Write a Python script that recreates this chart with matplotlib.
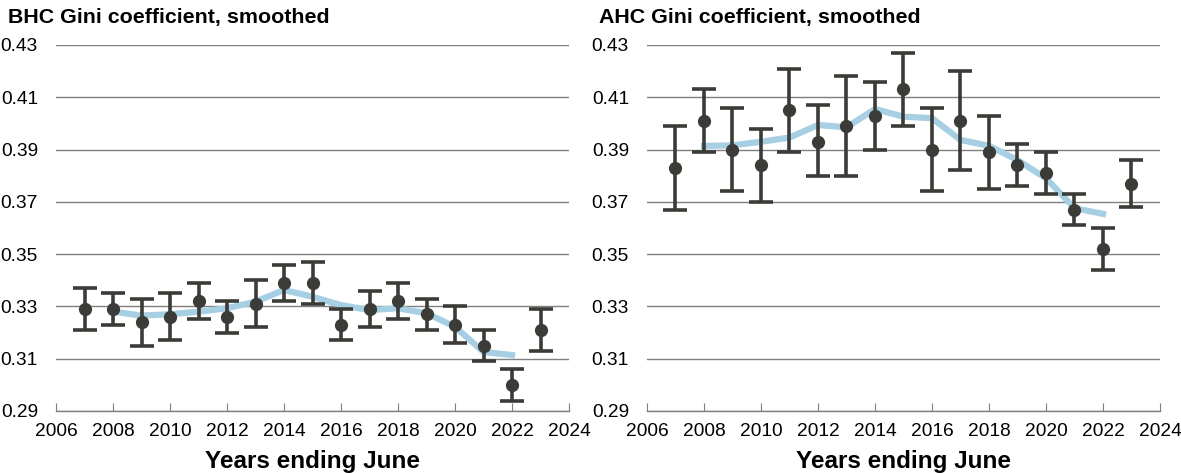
import matplotlib
matplotlib.use("Agg")
import matplotlib.pyplot as plt
import numpy as np

plt.rcParams["font.family"] = ["Liberation Sans", "DejaVu Sans"]

# ── Data ──────────────────────────────────────────────────────────────────────
years = [2007, 2008, 2009, 2010, 2011, 2012, 2013, 2014, 2015,
         2016, 2017, 2018, 2019, 2020, 2021, 2022, 2023]

bhc_val = [0.329, 0.329, 0.324, 0.326, 0.332, 0.326, 0.331, 0.339, 0.339,
           0.323, 0.329, 0.332, 0.327, 0.323, 0.315, 0.300, 0.321]
bhc_hi = [0.337, 0.335, 0.333, 0.335, 0.339, 0.332, 0.340, 0.346, 0.347,
          0.329, 0.336, 0.339, 0.333, 0.330, 0.321, 0.306, 0.329]
bhc_lo = [0.321, 0.323, 0.315, 0.317, 0.325, 0.320, 0.322, 0.332, 0.331,
          0.317, 0.322, 0.325, 0.321, 0.316, 0.309, 0.294, 0.313]

ahc_val = [0.383, 0.401, 0.390, 0.384, 0.405, 0.393, 0.399, 0.403, 0.413,
           0.390, 0.401, 0.389, 0.384, 0.381, 0.367, 0.352, 0.377]
ahc_hi = [0.399, 0.413, 0.406, 0.398, 0.421, 0.407, 0.418, 0.416, 0.427,
          0.406, 0.420, 0.403, 0.392, 0.389, 0.373, 0.360, 0.386]
ahc_lo = [0.367, 0.389, 0.374, 0.370, 0.389, 0.380, 0.380, 0.390, 0.399,
          0.374, 0.382, 0.375, 0.376, 0.373, 0.361, 0.344, 0.368]

smooth_years = [2008, 2009, 2010, 2011, 2012, 2013, 2014, 2015,
                2016, 2017, 2018, 2019, 2020, 2021, 2022]
bhc_smooth = [0.328, 0.3265, 0.327, 0.328, 0.3293, 0.3318, 0.3363, 0.3337,
              0.3305, 0.3286, 0.3293, 0.3274, 0.3222, 0.3126, 0.3114]
ahc_smooth = [0.3914, 0.3916, 0.393, 0.3946, 0.3994, 0.3985, 0.4055, 0.4026,
              0.402, 0.3937, 0.3914, 0.386, 0.379, 0.3676, 0.3654]

titles = ["BHC Gini coefficient, smoothed", "AHC Gini coefficient, smoothed"]
yticks = [0.29, 0.31, 0.33, 0.35, 0.37, 0.39, 0.41, 0.43]
xticks = list(range(2006, 2025, 2))

DARK = "#3b3b37"
BLUE = "#a6cfe4"
GRID = "#7f7f7f"

# ── Plot ──────────────────────────────────────────────────────────────────────
W, H = 1181, 473
fig = plt.figure(figsize=(W / 100, H / 100), dpi=100, facecolor="white")

panels = [
    (56, bhc_val, bhc_lo, bhc_hi, bhc_smooth),
    (647, ahc_val, ahc_lo, ahc_hi, ahc_smooth),
]

for (left_px, val, lo, hi, smooth), title in zip(panels, titles):
    ax = fig.add_axes([left_px / W, 1 - 411 / H, 513 / W, 366 / H])
    val = np.array(val)
    err = [val - np.array(lo), np.array(hi) - val]

    ax.plot(smooth_years, smooth, color=BLUE, linewidth=4.5,
            solid_joinstyle="round", zorder=2)
    ax.errorbar(years, val, yerr=err, fmt="o", color=DARK, ecolor=DARK,
                markersize=8.5, elinewidth=2.6, capsize=8.7, capthick=2.6,
                zorder=3)

    ax.set_xlim(2006, 2024)
    ax.set_ylim(0.29, 0.43)
    ax.set_xticks(xticks)
    ax.set_yticks(yticks)
    ax.set_yticklabels([f"{t:.2f}" for t in yticks])
    ax.grid(axis="y", color=GRID, linewidth=1)
    ax.set_axisbelow(True)
    for s in ["left", "right", "top"]:
        ax.spines[s].set_visible(False)
    ax.spines["bottom"].set_color(GRID)
    ax.spines["bottom"].set_linewidth(1)
    ax.tick_params(axis="x", direction="in", length=6, color=GRID,
                   labelsize=13.8, pad=8.5)
    ax.tick_params(axis="y", length=0, labelsize=13.8, pad=13)
    ax.set_xlabel("Years ending June", fontsize=17.5, fontweight="bold",
                  labelpad=7)

    fig.text((left_px - 48) / W, 1 - 18 / H, title, fontsize=15.4,
             fontweight="bold", va="center", ha="left")

fig.savefig("out.png", dpi=100, facecolor="white")
